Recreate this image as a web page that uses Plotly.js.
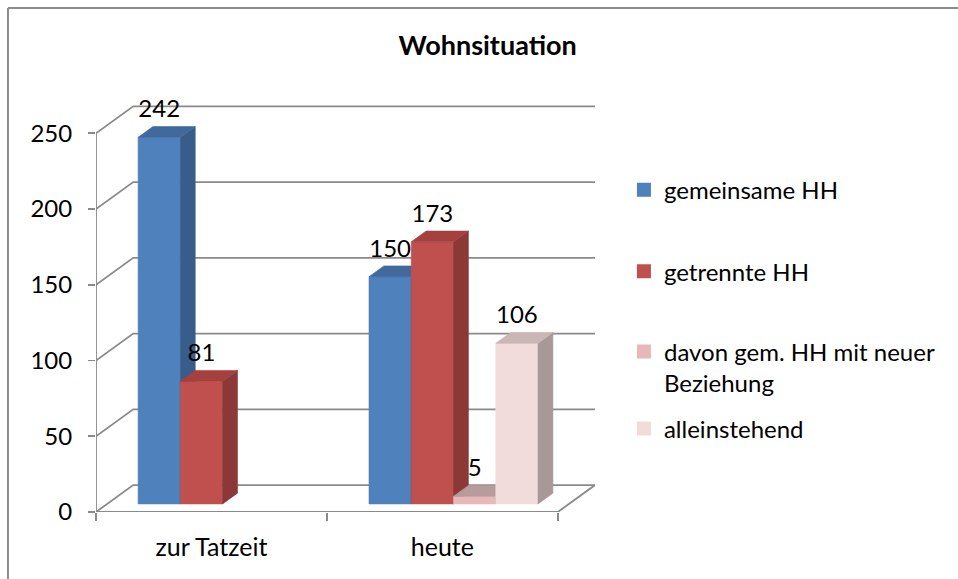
<!DOCTYPE html>
<html>
<head>
<meta charset="utf-8">
<script src="https://cdn.plot.ly/plotly-3.0.1.min.js"></script>
<style>html,body{margin:0;padding:0;background:#fff;}#chart{width:958px;height:579px;}</style>
</head>
<body>
<div id="chart"></div>
<script>
// ---- data ----
const categories = ["zur Tatzeit", "heute"];
const seriesNames = ["gemeinsame HH", "getrennte HH", "davon gem. HH mit neuer<br>Beziehung", "alleinstehend"];
const gemeinsameHH = [242, 150];
const getrennteHH = [81, 173];
const davonNeueBeziehung = [null, 5];
const alleinstehend = [null, 106];
const yTickVals = [0, 50, 100, 150, 200, 250];

// ---- styles ----
const frontColors = ["#4F81BD", "#C0504D", "#E6B9B8", "#F2DCDB"];
const sideColors  = ["#385D8A", "#8C3836", "#A68E8E", "#A89898"];
const topColors   = ["#41699C", "#A4403D", "#B89B9B", "#C9B6B5"];
const gridColor = "#8A8A8A";
const FONT = "Lato, 'Open Sans', sans-serif";

// ---- 3D geometry (axis units) ----
const DX = 0.161;     // wall depth along x
const DY = 17.8;      // wall depth along y
const BAR_W = 0.183;  // bar front width
const FRONT_F = 0.3;  // bar front position in depth
const DEPTH_F = 0.4;  // bar depth fraction
const LABEL_OFF = 17.2;

const valuesBySeries = [gemeinsameHH, getrennteHH, davonNeueBeziehung, alleinstehend];
const traces = [];

// back wall gridlines + side wall
yTickVals.forEach(v => {
  traces.push({type: "scatter", mode: "lines", x: [-0.5, -0.5 + DX, 1.5 + DX], y: [v, v + DY, v + DY],
    line: {color: gridColor, width: 1.8}, hoverinfo: "skip", showlegend: false});
});
// floor front edge
traces.push({type: "scatter", mode: "lines", x: [-0.5, 1.5, 1.5 + DX], y: [0, 0, DY],
  line: {color: gridColor, width: 1.8}, hoverinfo: "skip", showlegend: false});
// front vertical axis line
traces.push({type: "scatter", mode: "lines", x: [-0.5, -0.5], y: [0, yTickVals[yTickVals.length - 1]],
  line: {color: gridColor, width: 1.8}, hoverinfo: "skip", showlegend: false});

function poly(xs, ys, color) {
  traces.push({type: "scatter", mode: "lines", x: xs.concat([xs[0]]), y: ys.concat([ys[0]]),
    fill: "toself", fillcolor: color, line: {color: color, width: 0.6},
    hoverinfo: "skip", showlegend: false});
}

const nS = valuesBySeries.length;
const base = FRONT_F * DY;
const bdx = DEPTH_F * DX, bdy = DEPTH_F * DY;
const labelX = valuesBySeries.map(() => []);
const labelY = valuesBySeries.map(() => []);
const labelT = valuesBySeries.map(() => []);

categories.forEach((cat, c) => {
  for (let s = 0; s < nS; s++) {
    const v = valuesBySeries[s][c];
    if (v === null) continue;
    const x0 = c - (nS / 2) * BAR_W + s * BAR_W + FRONT_F * DX;
    const x1 = x0 + BAR_W;
    const yT = base + v;
    poly([x0, x1, x1, x0], [base, base, yT, yT], frontColors[s]);
    poly([x1, x1 + bdx, x1 + bdx, x1], [base, base + bdy, yT + bdy, yT], sideColors[s]);
    poly([x0, x1, x1 + bdx, x0 + bdx], [yT, yT, yT + bdy, yT + bdy], topColors[s]);
    labelX[s].push((x0 + x1) / 2);
    labelY[s].push(yT + LABEL_OFF);
    labelT[s].push(String(v));
  }
});

// data labels
for (let s = 0; s < nS; s++) {
  traces.push({type: "scatter", mode: "text", x: labelX[s], y: labelY[s], text: labelT[s],
    textposition: "middle center", textfont: {family: FONT, size: 24, color: "#000"},
    cliponaxis: false, hoverinfo: "skip", showlegend: false});
}

// legend entries
const legendIds = ["legend", "legend2", "legend3", "legend4"];
for (let s = 0; s < nS; s++) {
  traces.push({type: "scatter", mode: "markers", x: [null], y: [null], name: seriesNames[s],
    marker: {symbol: "square", size: 14, color: frontColors[s]}, legend: legendIds[s], showlegend: true, hoverinfo: "skip"});
}
// helper trace for secondary x axis (tick marks)
traces.push({type: "scatter", mode: "markers", x: [null], y: [null], xaxis: "x2", showlegend: false, hoverinfo: "skip"});

function legendAt(yPaper) {
  return {x: 1.058, xanchor: "left", y: yPaper, yanchor: "middle", bgcolor: "rgba(0,0,0,0)",
    font: {family: FONT, size: 24, color: "#000"}, valign: "top", itemclick: false, itemdoubleclick: false};
}

const xRange = [-0.5, 1.5 + DX];
const layout = {
  width: 958, height: 579,
  margin: {l: 96, r: 363, t: 103, b: 67},
  paper_bgcolor: "#fff", plot_bgcolor: "rgba(0,0,0,0)",
  hovermode: false,
  title: {text: "<b>Wohnsituation</b>", x: 0.509, xref: "container", y: 0.921, yref: "container",
    xanchor: "center", yanchor: "middle", font: {family: FONT, size: 27, color: "#000"}},
  xaxis: {range: xRange, tickvals: [0, 1], ticktext: categories, ticks: "", showgrid: false, zeroline: false,
    showline: false, ticklabelstandoff: 18, tickfont: {family: FONT, size: 25, color: "#000"}, fixedrange: true},
  xaxis2: {range: xRange, overlaying: "x", anchor: "y", side: "bottom", tickvals: [-0.5, 0.5, 1.5],
    ticks: "outside", ticklen: 8, tickwidth: 1.8, tickcolor: gridColor, showticklabels: false,
    showgrid: false, zeroline: false, showline: false, fixedrange: true},
  yaxis: {range: [0, 270], tickvals: yTickVals, ticks: "outside", ticklen: 7, tickwidth: 1.8, tickcolor: gridColor,
    showgrid: false, zeroline: false, showline: false, ticklabelstandoff: 11,
    tickfont: {family: FONT, size: 24, color: "#000"}, fixedrange: true},
  legend: legendAt(0.787),
  legend2: legendAt(0.5875),
  legend3: legendAt(0.3535),
  legend4: legendAt(0.203),
  shapes: [
    {type: "line", xref: "paper", yref: "paper", x0: -0.1764, x1: -0.1764, y0: 1.2323, y1: -0.3, line: {color: "#8C8C8C", width: 2}},
    {type: "line", xref: "paper", yref: "paper", x0: -0.1764, x1: 2, y0: 1.2323, y1: 1.2323, line: {color: "#8C8C8C", width: 2}}
  ]
};

Plotly.newPlot("chart", traces, layout, {displayModeBar: false, staticPlot: true});
</script>
</body>
</html>
